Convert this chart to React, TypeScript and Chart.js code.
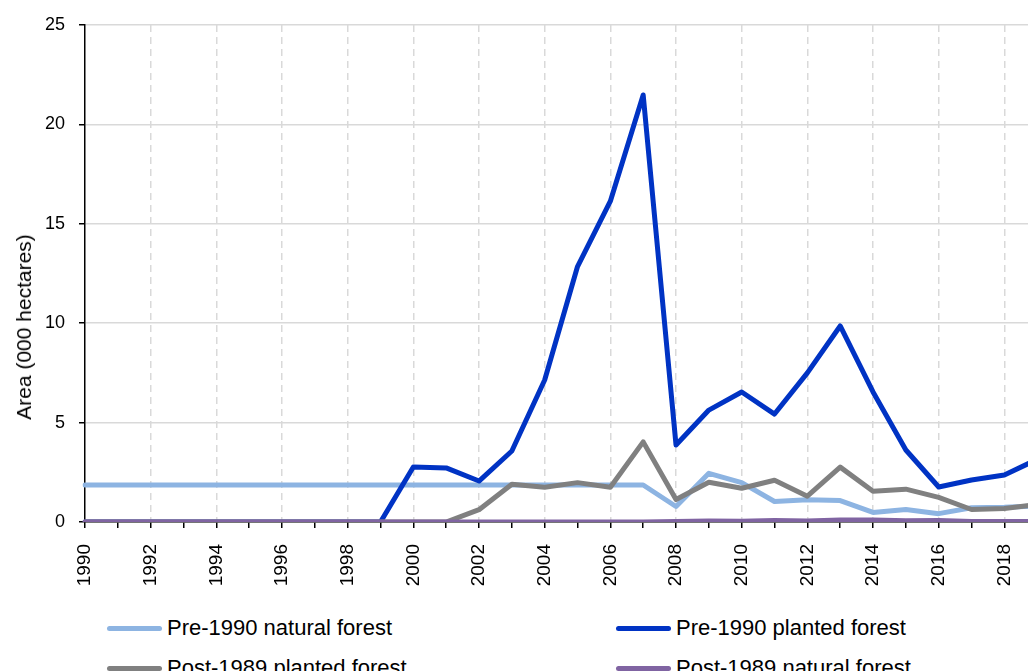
import React, { useEffect, useRef } from "react";
import { Chart, registerables } from "chart.js";

Chart.register(...registerables);

const years = [
  1990, 1991, 1992, 1993, 1994, 1995, 1996, 1997, 1998, 1999,
  2000, 2001, 2002, 2003, 2004, 2005, 2006, 2007, 2008, 2009,
  2010, 2011, 2012, 2013, 2014, 2015, 2016, 2017, 2018, 2019,
];

const preNatural = [
  1.86, 1.86, 1.86, 1.86, 1.86, 1.86, 1.86, 1.86, 1.86, 1.86,
  1.86, 1.86, 1.86, 1.86, 1.86, 1.86, 1.86, 1.86, 0.78, 2.45,
  1.98, 1.03, 1.12, 1.08, 0.48, 0.63, 0.42, 0.72, 0.74, 0.8,
];

const prePlanted = [
  0, 0, 0, 0, 0, 0, 0, 0, 0, 0,
  2.77, 2.72, 2.06, 3.57, 7.14, 12.85, 16.14, 21.48, 3.87, 5.63,
  6.54, 5.43, 7.5, 9.86, 6.54, 3.62, 1.76, 2.11, 2.36, 3.15,
];

const postPlanted = [
  0, 0, 0, 0, 0, 0, 0, 0, 0, 0,
  0, 0, 0.62, 1.9, 1.75, 1.98, 1.75, 4.03, 1.13, 2.0,
  1.7, 2.1, 1.3, 2.76, 1.55, 1.65, 1.24, 0.63, 0.68, 0.88,
];

const postNatural = [
  0, 0, 0, 0, 0, 0, 0, 0, 0, 0,
  0, 0, 0, 0, 0, 0, 0, 0, 0.02, 0.05,
  0.04, 0.08, 0.05, 0.1, 0.1, 0.06, 0.08, 0.03, 0.03, 0.03,
];

const seriesNames = [
  "Pre-1990 natural forest",
  "Pre-1990 planted forest",
  "Post-1989 planted forest",
  "Post-1989 natural forest",
];
const seriesColors = ["#8DB4E2", "#0033C4", "#808080", "#8064A2"];
const yTitle = "Area (000 hectares)";

const FONT = "'Liberation Sans', Arial, sans-serif";

export default function App() {
  const ref = useRef<HTMLCanvasElement | null>(null);

  useEffect(() => {
    if (!ref.current) return;
    const mk = (i: number, data: number[]) => ({
      label: seriesNames[i],
      data,
      borderColor: seriesColors[i],
      backgroundColor: seriesColors[i],
      borderWidth: 5,
      pointRadius: 0,
      tension: 0,
      borderJoinStyle: "round" as const,
      borderCapStyle: "round" as const,
      fill: false,
    });
    const chart = new Chart(ref.current, {
      type: "line",
      data: {
        labels: years.map(String),
        datasets: [
          mk(3, postNatural),
          mk(2, postPlanted),
          mk(1, prePlanted),
          mk(0, preNatural),
        ],
      },
      options: {
        responsive: false,
        animation: false,
        devicePixelRatio: 1,
        layout: { padding: { left: 0, right: 25, top: 25, bottom: 0 } },
        plugins: {
          legend: { display: false },
          tooltip: { enabled: false },
        },
        scales: {
          x: {
            type: "category",
            offset: false,
            grid: {
              color: (ctx: any) =>
                years[ctx.index] !== undefined && years[ctx.index] % 2 === 0 && ctx.index > 0
                  ? "#D9D9D9"
                  : "rgba(0,0,0,0)",
              lineWidth: 1.5,
              drawTicks: true,
              tickLength: 6,
              tickColor: "#000",
              tickWidth: 1.5,
              tickBorderDash: [],
            },
            border: { display: true, color: "#000", width: 1.5, dash: [7, 5] },
            ticks: {
              autoSkip: false,
              maxRotation: 90,
              minRotation: 90,
              padding: 16,
              color: "#000",
              font: { family: FONT, size: 19 },
              callback: (_v: any, i: number) =>
                years[i] % 2 === 0 ? String(years[i]) : "",
            },
            afterFit: (s: any) => {
              s.height = 79;
            },
          },
          y: {
            min: 0,
            max: 25,
            ticks: {
              stepSize: 5,
              padding: 14,
              color: "#000",
              font: { family: FONT, size: 18 },
            },
            grid: {
              color: "#D9D9D9",
              lineWidth: 1.5,
              tickLength: 6,
              tickColor: "#000",
              tickWidth: 1.5,
            },
            border: { display: true, color: "#000", width: 1.5 },
            afterFit: (s: any) => {
              s.width = 85;
            },
          },
        },
      },
    });
    return () => chart.destroy();
  }, []);

  const legendItem = (i: number, left: number, top: number) => (
    <div
      key={i}
      style={{
        position: "absolute",
        left,
        top,
        display: "flex",
        alignItems: "center",
        height: 30,
        whiteSpace: "nowrap",
      }}
    >
      <span
        style={{
          display: "inline-block",
          width: 55,
          height: 5,
          borderRadius: 3,
          background: seriesColors[i],
          marginRight: 5,
        }}
      />
      <span style={{ fontFamily: FONT, fontSize: 22, color: "#000" }}>
        {seriesNames[i]}
      </span>
    </div>
  );

  return (
    <div
      style={{
        position: "fixed",
        left: 0,
        top: 0,
        width: 1028,
        height: 671,
        overflow: "hidden",
        background: "#fff",
      }}
    >
      <canvas
        ref={ref}
        width={1076}
        height={601}
        style={{ position: "absolute", left: 0, top: 0, width: 1076, height: 601 }}
      />
      <div
        style={{
          position: "absolute",
          left: 24,
          top: 327,
          transform: "translate(-50%, -50%) rotate(-90deg)",
          whiteSpace: "nowrap",
          fontFamily: FONT,
          fontSize: 21,
          color: "#000",
          lineHeight: "24px",
        }}
      >
        {yTitle}
      </div>
      {legendItem(0, 107, 613)}
      {legendItem(1, 616, 613)}
      {legendItem(2, 107, 653)}
      {legendItem(3, 616, 653)}
    </div>
  );
}
